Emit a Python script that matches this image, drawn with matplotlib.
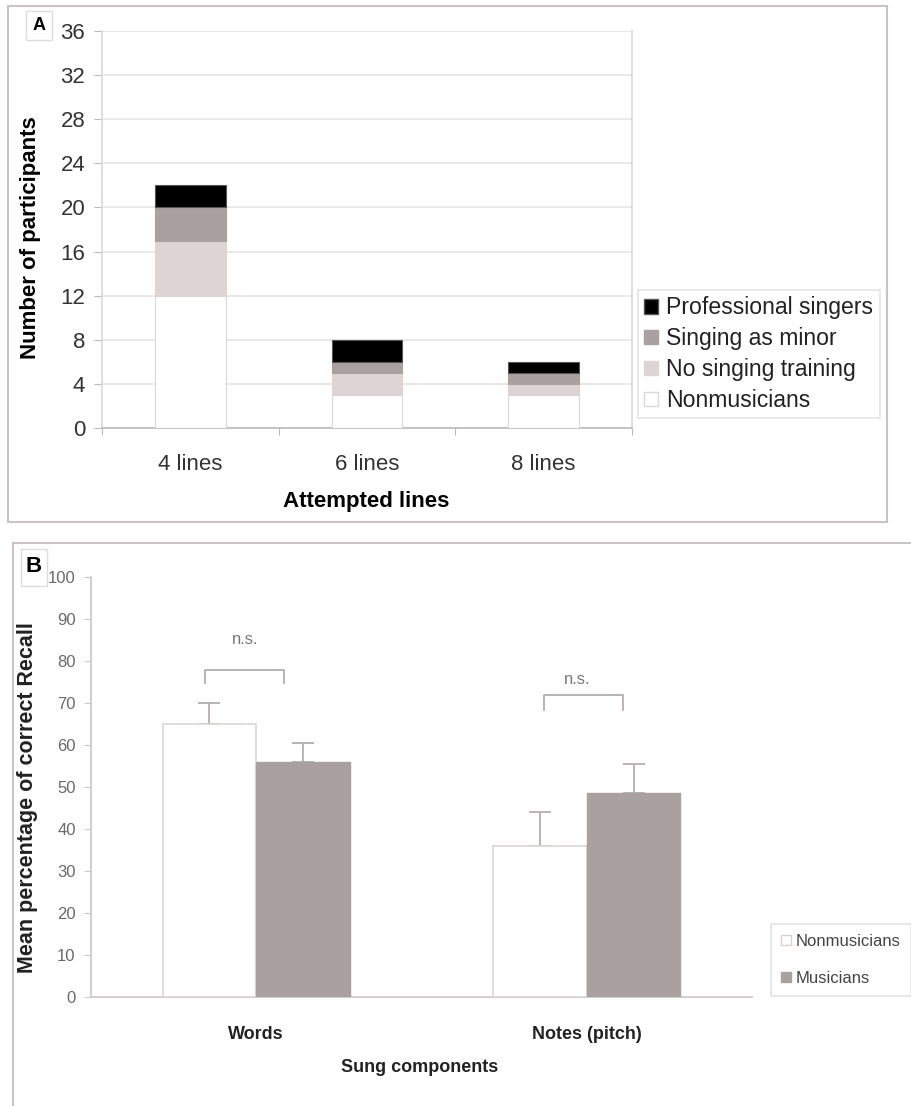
import matplotlib
matplotlib.use("Agg")
import matplotlib.pyplot as plt
from matplotlib.patches import Rectangle, Patch
from matplotlib import font_manager
import numpy as np

# ---------------- data ----------------
lines_categories = ["4 lines", "6 lines", "8 lines"]
nonmusicians_counts = [12, 3, 3]
no_singing_counts = [5, 2, 1]
singing_minor_counts = [3, 1, 1]
professional_counts = [2, 2, 1]
a_yticks = [0, 4, 8, 12, 16, 20, 24, 28, 32, 36]

components = ["Words", "Notes (pitch)"]
nonmusician_recall = [65, 36]
nonmusician_err = [5, 8]
musician_recall = [56, 48.5]
musician_err = [4.5, 7]
b_yticks = [0, 10, 20, 30, 40, 50, 60, 70, 80, 90, 100]

# ---------------- fonts ----------------
names = {f.name for f in font_manager.fontManager.ttflist}
BASE = "Liberation Sans" if "Liberation Sans" in names else "DejaVu Sans"
plt.rcParams["font.family"] = [BASE, "DejaVu Sans"]

W, H = 912, 1106
fig = plt.figure(figsize=(W / 100, H / 100), dpi=100)

def fx(px):
    return px / W

def fy(py):
    return 1 - py / H

def ax_rect(l, t, r, b):
    return [fx(l), fy(b), (r - l) / W, (b - t) / H]

BORDER = "#c9c3c3"
c_prof = "#000000"
c_minor = "#a9a1a0"
c_nosing = "#ddd5d4"
c_non = "#ffffff"
edge_light = "#ddd8d8"

# ---------------- panel borders ----------------
fig.patches.append(Rectangle((fx(8), fy(522)), (887 - 8) / W, (522 - 6) / H,
                             transform=fig.transFigure, fill=False,
                             edgecolor=BORDER, lw=1.5))
fig.patches.append(Rectangle((fx(13), fy(1120)), (930 - 13) / W, (1120 - 543) / H,
                             transform=fig.transFigure, fill=False,
                             edgecolor=BORDER, lw=1.5, clip_on=False))

# ---------------- panel A ----------------
axA = fig.add_axes(ax_rect(102, 31, 632, 428))
x = np.arange(len(lines_categories))
bw = 0.4
bottoms = np.zeros(len(x))
series = [
    (nonmusicians_counts, c_non, edge_light, "Nonmusicians"),
    (no_singing_counts, c_nosing, c_nosing, "No singing training"),
    (singing_minor_counts, c_minor, c_minor, "Singing as minor"),
    (professional_counts, c_prof, "#555555", "Professional singers"),
]
for vals, col, ec, lab in series:
    axA.bar(x, vals, bw, bottom=bottoms, color=col, edgecolor=ec, lw=0.8, zorder=3)
    bottoms += np.array(vals)

axA.set_xlim(-0.5, len(x) - 0.5)
axA.set_ylim(0, 36)
axA.set_yticks(a_yticks)
axA.set_yticklabels([str(v) for v in a_yticks], fontsize=16, color="#333333")
axA.yaxis.grid(True, color="#e8e4e4", lw=1.2, zorder=0)
axA.set_axisbelow(True)
axA.set_xticks(np.arange(-0.5, len(x), 1.0))
axA.set_xticklabels([])
axA.set_xticks(x, minor=True)
axA.set_xticklabels(lines_categories, minor=True, fontsize=16, color="#333333")
axA.tick_params(axis="x", which="minor", length=0, pad=19)
axA.tick_params(axis="x", which="major", length=5, color="#bbbbbb", direction="out")
axA.tick_params(axis="y", length=6, color="#bbbbbb", pad=6)
for s in ["left", "bottom", "top", "right"]:
    axA.spines[s].set_color("#dcd8d8")
    axA.spines[s].set_linewidth(1.2)
axA.spines["bottom"].set_color("#bbbbbb")
axA.spines["top"].set_visible(False)

fig.text(fx(31), fy(238), "Number of participants", rotation=90, ha="center",
         va="center", fontsize=16, fontweight="bold")
fig.text(fx(366), fy(502), "Attempted lines", ha="center", va="center",
         fontsize=16, fontweight="bold")

fig.patches.append(Rectangle((fx(26), fy(40)), 26 / W, 29 / H,
                             transform=fig.transFigure, fill=False,
                             edgecolor="#dddddd", lw=1.0))
fig.text(fx(39), fy(26), "A", ha="center", va="center", fontsize=13,
         fontweight="bold")

handlesA = [Patch(facecolor=col, edgecolor=ec, label=lab)
            for vals, col, ec, lab in series[::-1]]
legA = fig.legend(handles=handlesA, loc="upper left",
                  bbox_to_anchor=(fx(638), fy(290)), fontsize=16.6,
                  frameon=True, fancybox=False, handlelength=0.6,
                  handleheight=0.6, handletextpad=0.35, labelspacing=0.34,
                  borderpad=0.28, borderaxespad=0)
legA.get_frame().set_edgecolor("#dddddd")
legA.get_frame().set_linewidth(1.2)
for t in legA.get_texts():
    t.set_color("#222222")

# ---------------- panel B ----------------
axB = fig.add_axes(ax_rect(91, 577, 752, 997))
xb = np.arange(len(components))
bwb = 0.283
err_col = "#b5aeae"
axB.bar(xb - bwb / 2, nonmusician_recall, bwb, color="#ffffff",
        edgecolor="#ddd6d5", lw=1.2, zorder=3)
axB.bar(xb + bwb / 2, musician_recall, bwb, color=c_minor,
        edgecolor=c_minor, lw=1.0, zorder=3)
axB.errorbar(xb - bwb / 2, nonmusician_recall,
             yerr=[np.zeros(len(xb)), nonmusician_err], fmt="none",
             ecolor=err_col, elinewidth=1.3, capsize=8, capthick=1.3, zorder=2)
axB.errorbar(xb + bwb / 2, musician_recall,
             yerr=[np.zeros(len(xb)), musician_err], fmt="none",
             ecolor=err_col, elinewidth=1.3, capsize=8, capthick=1.3, zorder=2)

axB.set_xlim(-0.5, len(xb) - 0.5)
axB.set_ylim(0, 100)
axB.set_yticks(b_yticks)
axB.set_yticklabels([str(v) for v in b_yticks], fontsize=12, color="#6a6a6a")
axB.tick_params(axis="y", length=5, color="#cfc8c8", pad=6)
axB.set_xticks(xb)
axB.set_xticklabels(components, fontsize=13, fontweight="bold", color="#222222")
axB.tick_params(axis="x", length=0, pad=21)
for s in ["top", "right"]:
    axB.spines[s].set_visible(False)
for s in ["left", "bottom"]:
    axB.spines[s].set_color("#d0c9c9")
    axB.spines[s].set_linewidth(1.3)

# significance brackets
br_col = "#b5aeae"
brackets = [(-0.155, 0.085, 74.8, 77.9, -0.035, 85.0),
            (-0.13, 0.11, 68.3, 71.9, -0.03, 75.5)]
for gi, (l, r, yb, yt, tx, ty) in zip(xb, brackets):
    axB.plot([gi + l, gi + l, gi + r, gi + r], [yb, yt, yt, yb],
             color=br_col, lw=1.3, zorder=4)
    axB.text(gi + tx, ty, "n.s.", ha="center", va="center", fontsize=12,
             color="#777777")

fig.text(fx(28), fy(798), "Mean percentage of correct Recall", rotation=90,
         ha="center", va="center", fontsize=15.5, fontweight="bold",
         color="#222222")
fig.text(fx(420), fy(1068), "Sung components", ha="center", va="center",
         fontsize=13, fontweight="bold", color="#222222")

fig.patches.append(Rectangle((fx(21), fy(586)), 26 / W, 37 / H,
                             transform=fig.transFigure, fill=False,
                             edgecolor="#dddddd", lw=1.0))
fig.text(fx(34), fy(567), "B", ha="center", va="center", fontsize=16,
         fontweight="bold")

handlesB = [Patch(facecolor="#ffffff", edgecolor="#d9d2d1", label="Nonmusicians"),
            Patch(facecolor=c_minor, edgecolor=c_minor, label="Musicians")]
legB = fig.legend(handles=handlesB, loc="upper left",
                  bbox_to_anchor=(fx(771), fy(924)), fontsize=12,
                  frameon=True, fancybox=False, handlelength=0.6,
                  handleheight=0.6, handletextpad=0.3, labelspacing=1.3,
                  borderpad=0.6, borderaxespad=0)
legB.get_frame().set_edgecolor("#dddddd")
legB.get_frame().set_linewidth(1.2)
for t in legB.get_texts():
    t.set_color("#444444")

fig.savefig("out.png", dpi=100, facecolor="white")
